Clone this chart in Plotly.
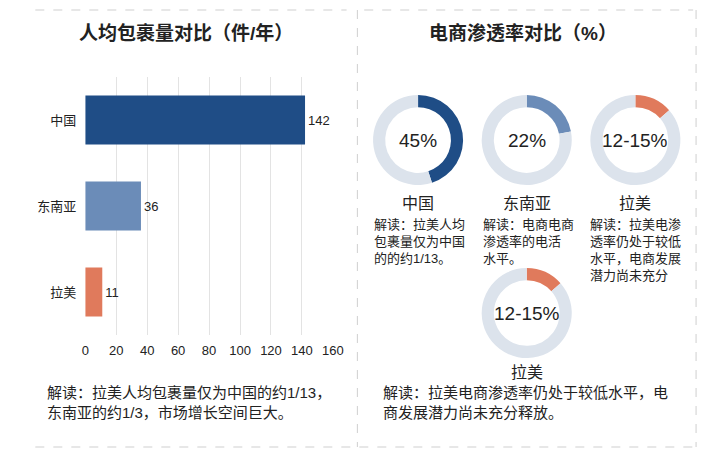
import plotly.graph_objects as go

# ---- data ----
regions = ["中国", "东南亚", "拉美"]
parcels = [142, 36, 11]
bar_colors = ["#1f4d86", "#6b8cb8", "#e07a5c"]

pen_labels = ["中国", "东南亚", "拉美", "拉美"]
pen_values = [45, 22, 13.5, 13.5]
pen_texts = ["45%", "22%", "12-15%", "12-15%"]
pen_colors = ["#1f4d86", "#6b8cb8", "#e07a5c", "#e07a5c"]
ring_bg = "#dce3ec"

notes_small = [
    "解读：拉美人均<br>包裹量仅为中国<br>的的约1/13。",
    "解读：电商电商<br>渗透率的电活<br>水平。",
    "解读：拉美电渗<br>透率仍处于较低<br>水平，电商发展<br>潜力尚未充分",
]
note_left = "解读：拉美人均包裹量仅为中国的约1/13，<br>东南亚的约1/3，市场增长空间巨大。"
note_right = "解读：拉美电商渗透率仍处于较低水平，电<br>商发展潜力尚未充分释放。"
title_left = "人均包裹量对比（件/年）"
title_right = "电商渗透率对比（%）"
x_ticks = [0, 20, 40, 60, 80, 100, 120, 140, 160]

W, H = 710, 450
FONT = "Liberation Sans, Arial, Noto Sans CJK SC, sans-serif"
TXT = "#222222"

def px(x):
    return x / W

def py(y):
    return 1 - y / H

def note(fig, x, y, text, size, xanchor="center", yanchor="middle", align="center"):
    fig.add_annotation(x=px(x), y=py(y), xref="paper", yref="paper",
                       text=text, showarrow=False, xanchor=xanchor,
                       yanchor=yanchor, align=align,
                       font=dict(size=size, color=TXT, family=FONT))

fig = go.Figure()

fig.add_trace(go.Bar(
    y=regions, x=parcels, orientation="h",
    marker=dict(color=bar_colors, line=dict(width=0)),
    text=[str(v) for v in parcels], textposition="outside",
    textfont=dict(size=13, color=TXT, family=FONT),
    cliponaxis=False, hoverinfo="skip", showlegend=False,
    xaxis="x", yaxis="y",
))

# donuts
centers = [(423, 140), (534, 140), (645, 140), (534, 313)]
R = 46
for (cx, cy), v, c, t in zip(centers, pen_values, pen_colors, pen_texts):
    fig.add_trace(go.Pie(
        values=[v, 100 - v], marker=dict(colors=[c, ring_bg], line=dict(width=0)),
        hole=0.73, sort=False, direction="clockwise", rotation=0,
        textinfo="none", hoverinfo="skip", showlegend=False,
        domain=dict(x=[px(cx - R), px(cx + R)], y=[py(cy + R), py(cy - R)]),
    ))
    note(fig, cx, cy, t, 19)

# region labels under donuts
label_pos = [(423, 203), (534, 203), (645, 203), (534, 372)]
for (lx, ly), lab in zip(label_pos, pen_labels):
    note(fig, lx, ly, lab, 16)

note_x = [376, 487, 597]
for nx, nt in zip(note_x, notes_small):
    note(fig, nx, 215, nt, 13, xanchor="left", yanchor="top", align="left")

# titles
note(fig, 186, 33, "<b>" + title_left + "</b>", 19)
note(fig, 530, 33, "<b>" + title_right + "</b>", 19)

# bottom notes
note(fig, 42, 382, note_left, 15, xanchor="left", yanchor="top", align="left")
note(fig, 385, 382, note_right, 15, xanchor="left", yanchor="top", align="left")

# dashed panel borders
dash = dict(color="#cfcfcf", width=1, dash="dash")
for x0, y0, x1, y1 in [(32, 10, 350, 10), (368, 10, 704, 10),
                       (361, 10, 361, 447), (707, 10, 707, 447),
                       (32, 447, 704, 447)]:
    fig.add_shape(type="line", xref="paper", yref="paper",
                  x0=px(x0), y0=py(y0), x1=px(x1), y1=py(y1), line=dash)

fig.update_layout(
    width=W, height=H, margin=dict(l=0, r=0, t=0, b=0),
    paper_bgcolor="white", plot_bgcolor="white",
    font=dict(family=FONT, color=TXT),
    bargap=0.43,
    xaxis=dict(domain=[px(83), px(336)], range=[0, 160], tickvals=x_ticks,
               showgrid=True, gridcolor="#e3e3e3", gridwidth=1,
               zeroline=False, showline=False, ticks="",
               ticklabelstandoff=6,
               tickfont=dict(size=13, color=TXT), fixedrange=True),
    yaxis=dict(domain=[py(335), py(77)], autorange="reversed",
               showgrid=False, zeroline=False, showline=False, ticks="",
               ticklabelstandoff=8,
               tickfont=dict(size=13, color=TXT), fixedrange=True),
)

fig.write_html("out.html")
